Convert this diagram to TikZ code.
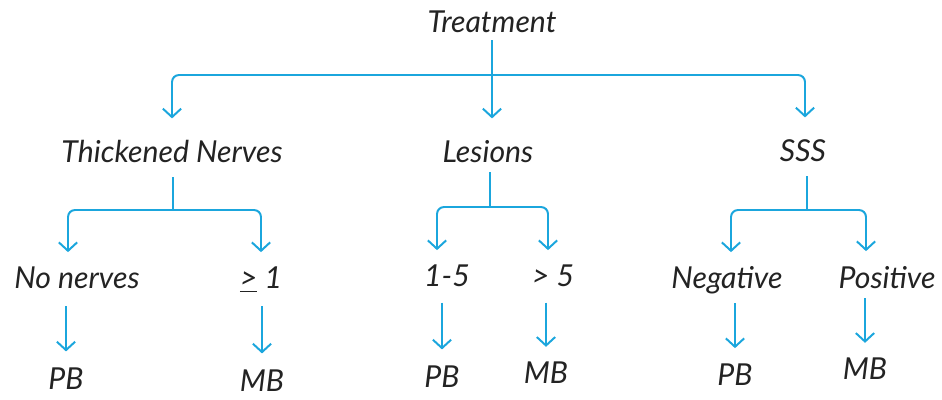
\documentclass[tikz,border=0pt]{standalone}
\usepackage{fontspec}
\newfontfamily\hand{Lato Italic}
\usetikzlibrary{arrows.meta,calc}
\definecolor{flow}{RGB}{27,166,221}
\definecolor{ink}{RGB}{35,35,35}

\begin{document}
\begin{tikzpicture}[x=0.025cm, y=-0.025cm,
    lbl/.style={anchor=base, inner sep=0pt, text height=14pt, text depth=0pt,
        text=ink, font=\hand\fontsize{21.5}{25}\selectfont},
    link/.style={draw=flow, line width=1.4pt},
    arr/.style={link, -{Straight Barb[length=6pt,width=13pt]}, rounded corners=5pt}]

    % 画布范围 (像素坐标, y 向下)
    \useasboundingbox (0,0) rectangle (942,400);

    % --- 根节点 ---
    \node[lbl] (treat) at (492,33) {Treatment};

    % --- 第二层 ---
    \node[lbl] (thick) at (172,163) {Thickened Nerves};
    \node[lbl] (les)   at (488,163) {Lesions};
    \node[lbl] (sss)   at (803,162) {SSS};

    % --- 第三层 ---
    \node[lbl] (nonerv)  at (77,289)  {No nerves};
    \node[lbl] (geone)   at (261,289) {\underline{>}\ 1};
    \node[lbl] (onefive) at (447,287) {1-5};
    \node[lbl] (gtfive)  at (553,287) {> 5};
    \node[lbl] (neg)     at (727,289) {Negative};
    \node[lbl] (pos)     at (887,288) {Positive};

    % --- 第四层 ---
    \node[lbl] (pb1) at (66,389)  {PB};
    \node[lbl] (mb1) at (262,391) {MB};
    \node[lbl] (pb2) at (442,387) {PB};
    \node[lbl] (mb2) at (546,383) {MB};
    \node[lbl] (pb3) at (735,385) {PB};
    \node[lbl] (mb3) at (865,379) {MB};

    % 分叉点
    \coordinate (tb) at (492,75);
    \coordinate (kb) at (173,210);
    \coordinate (lb) at (490,207);
    \coordinate (sb) at (807,210);

    % Treatment -> 三个指标
    \draw[link, shorten <=5pt] (treat.south) -- (tb);
    \draw[arr, shorten >=17.5pt] (tb) -| (thick.north);
    \draw[arr, shorten >=17.5pt] (tb) -- (tb |- les.north);
    \draw[arr, shorten >=17.5pt] (tb) -| ($(sss.north)+(2,0)$);

    % Thickened Nerves
    \draw[link, shorten <=10pt] (thick.south -| kb) -- (kb);
    \draw[arr, shorten >=12pt] (kb) -| ($(nonerv.north)+(-9,0)$);
    \draw[arr, shorten >=12pt] (kb) -| (geone.north);

    % Lesions
    \draw[link, shorten <=6.5pt] (les.south -| lb) -- (lb);
    \draw[arr, shorten >=12pt] (lb) -| ($(onefive.north)+(-10,0)$);
    \draw[arr, shorten >=12pt] (lb) -| ($(gtfive.north)+(-5,0)$);

    % SSS
    \draw[link, shorten <=10pt] (sss.south -| sb) -- (sb);
    \draw[arr, shorten >=12pt] (sb) -| ($(neg.north)+(4,0)$);
    \draw[arr, shorten >=12pt] (sb) -| ($(pos.north)+(-21,0)$);

    % 第三层 -> PB / MB
    \draw[arr, shorten <=12pt, shorten >=12.5pt] (nonerv.south -| pb1) -- (pb1.north);
    \draw[arr, shorten <=12pt, shorten >=12.5pt] (geone.south -| mb1) -- (mb1.north);
    \draw[arr, shorten <=11pt, shorten >=12.5pt] (onefive.south -| pb2) -- (pb2.north);
    \draw[arr, shorten <=11pt, shorten >=11.5pt] (gtfive.south -| mb2) -- (mb2.north);
    \draw[arr, shorten <=10pt, shorten >=12pt] (neg.south -| pb3) -- (pb3.north);
    \draw[arr, shorten <=7pt, shorten >=11.5pt] (pos.south -| mb3) -- (mb3.north);

\end{tikzpicture}
\end{document}
